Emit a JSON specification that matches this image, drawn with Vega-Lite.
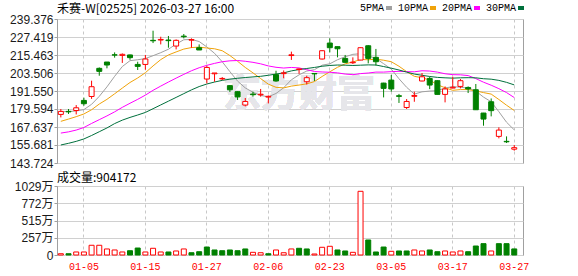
{
  "$schema": "https://vega.github.io/schema/vega-lite/v6.json",
  "background": "white",
  "padding": {"left": 5, "top": 2, "right": 0, "bottom": 0},
  "spacing": 1,
  "config": {
    "view": {"stroke": "#a0a0a0", "strokeWidth": 1},
    "axis": {"labelFont": "Liberation Sans, Noto Sans CJK SC", "labelFontSize": 12, "labelColor": "#1a1a1a", "domainColor": "#a0a0a0", "tickColor": "#a0a0a0", "gridColor": "#d0d0d0", "title": null},
    "axisY": {"labelOverlap": false},
    "title": {"font": "Noto Sans CJK SC", "fontSize": 12, "fontWeight": "normal", "anchor": "start", "frame": "group", "color": "#000000"}
  },
  "datasets": {
    "k": [
      {"i":0,"d":"12-30","o":176.0,"h":179.6,"l":174.0,"c":178.0,"v":190000,"vu":1,"5PMA":177.8,"10PMA":171.4,"20PMA":163.6,"30PMA":155.7},
      {"i":1,"d":"12-31","o":178.0,"h":179.6,"l":176.3,"c":177.7,"v":190000,"vu":0,"5PMA":177.9,"10PMA":172.9,"20PMA":164.4,"30PMA":156.8},
      {"i":2,"d":"01-02","o":178.6,"h":182.2,"l":176.0,"c":180.4,"v":450000,"vu":1,"5PMA":178.3,"10PMA":174.5,"20PMA":165.6,"30PMA":158.1},
      {"i":3,"d":"01-05","o":185.3,"h":187.1,"l":181.8,"c":183.1,"v":450000,"vu":1,"5PMA":179.2,"10PMA":176.3,"20PMA":167.3,"30PMA":159.7},
      {"i":4,"d":"01-06","o":187.9,"h":198.4,"l":186.3,"c":194.4,"v":1450000,"vu":1,"5PMA":182.7,"10PMA":179.1,"20PMA":170.0,"30PMA":162.0},
      {"i":5,"d":"01-07","o":206.6,"h":207.2,"l":201.7,"c":204.6,"v":1450000,"vu":1,"5PMA":188.0,"10PMA":182.9,"20PMA":172.5,"30PMA":164.5},
      {"i":6,"d":"01-08","o":210.8,"h":210.8,"l":206.6,"c":208.8,"v":900000,"vu":1,"5PMA":194.3,"10PMA":186.0,"20PMA":175.0,"30PMA":167.0},
      {"i":7,"d":"01-09","o":215.6,"h":217.2,"l":213.7,"c":215.4,"v":750000,"vu":1,"5PMA":201.3,"10PMA":189.7,"20PMA":177.7,"30PMA":169.9},
      {"i":8,"d":"01-12","o":215.2,"h":216.5,"l":210.2,"c":215.9,"v":450000,"vu":1,"5PMA":207.8,"10PMA":193.5,"20PMA":180.7,"30PMA":172.2},
      {"i":9,"d":"01-13","o":215.5,"h":215.7,"l":212.3,"c":213.7,"v":640000,"vu":0,"5PMA":211.7,"10PMA":197.2,"20PMA":183.4,"30PMA":174.0},
      {"i":10,"d":"01-14","o":209.2,"h":211.0,"l":205.5,"c":207.9,"v":1040000,"vu":0,"5PMA":212.3,"10PMA":200.2,"20PMA":186.0,"30PMA":175.6},
      {"i":11,"d":"01-15","o":209.2,"h":215.5,"l":205.7,"c":212.8,"v":450000,"vu":1,"5PMA":213.1,"10PMA":203.7,"20PMA":188.8,"30PMA":177.3},
      {"i":12,"d":"01-16","o":225.2,"h":231.6,"l":223.4,"c":224.9,"v":1000000,"vu":1,"5PMA":215.0,"10PMA":208.2,"20PMA":192.0,"30PMA":179.8},
      {"i":13,"d":"01-19","o":225.4,"h":227.6,"l":222.5,"c":225.8,"v":450000,"vu":1,"5PMA":217.0,"10PMA":212.4,"20PMA":194.8,"30PMA":182.3},
      {"i":14,"d":"01-20","o":225.4,"h":228.1,"l":220.3,"c":225.0,"v":450000,"vu":0,"5PMA":219.3,"10PMA":215.5,"20PMA":197.5,"30PMA":184.8},
      {"i":15,"d":"01-21","o":221.4,"h":225.8,"l":219.2,"c":225.2,"v":600000,"vu":1,"5PMA":222.7,"10PMA":217.5,"20PMA":200.1,"30PMA":187.3},
      {"i":16,"d":"01-22","o":228.0,"h":229.4,"l":226.5,"c":227.6,"v":900000,"vu":1,"5PMA":225.6,"10PMA":219.4,"20PMA":202.6,"30PMA":189.8},
      {"i":17,"d":"01-23","o":225.3,"h":226.5,"l":220.3,"c":225.7,"v":340000,"vu":0,"5PMA":225.8,"10PMA":220.4,"20PMA":205.0,"30PMA":192.3},
      {"i":18,"d":"01-26","o":220.3,"h":222.5,"l":218.8,"c":218.8,"v":490000,"vu":0,"5PMA":224.4,"10PMA":220.7,"20PMA":207.0,"30PMA":194.5},
      {"i":19,"d":"01-27","o":199.5,"h":208.3,"l":196.6,"c":207.2,"v":1190000,"vu":0,"5PMA":220.8,"10PMA":220.1,"20PMA":208.6,"30PMA":196.2},
      {"i":20,"d":"01-28","o":203.0,"h":203.5,"l":197.7,"c":203.5,"v":750000,"vu":0,"5PMA":216.6,"10PMA":219.6,"20PMA":209.9,"30PMA":197.5},
      {"i":21,"d":"01-29","o":199.6,"h":200.8,"l":198.8,"c":199.9,"v":640000,"vu":0,"5PMA":211.0,"10PMA":218.3,"20PMA":211.0,"30PMA":198.6},
      {"i":22,"d":"01-30","o":195.1,"h":195.5,"l":190.9,"c":192.4,"v":750000,"vu":0,"5PMA":204.4,"10PMA":215.1,"20PMA":211.6,"30PMA":199.4},
      {"i":23,"d":"02-02","o":191.1,"h":191.3,"l":185.6,"c":187.6,"v":640000,"vu":0,"5PMA":198.1,"10PMA":211.3,"20PMA":211.8,"30PMA":200.0},
      {"i":24,"d":"02-03","o":182.2,"h":186.9,"l":181.3,"c":184.6,"v":900000,"vu":0,"5PMA":193.6,"10PMA":207.2,"20PMA":211.3,"30PMA":200.5},
      {"i":25,"d":"02-04","o":189.5,"h":191.1,"l":187.8,"c":189.1,"v":400000,"vu":1,"5PMA":190.7,"10PMA":203.6,"20PMA":210.6,"30PMA":200.9},
      {"i":26,"d":"02-05","o":189.0,"h":192.9,"l":187.8,"c":189.4,"v":340000,"vu":1,"5PMA":188.6,"10PMA":199.8,"20PMA":209.6,"30PMA":201.3},
      {"i":27,"d":"02-06","o":187.5,"h":188.6,"l":183.3,"c":188.0,"v":190000,"vu":0,"5PMA":187.7,"10PMA":196.1,"20PMA":208.2,"30PMA":202.0},
      {"i":28,"d":"02-09","o":202.4,"h":205.0,"l":197.7,"c":198.2,"v":750000,"vu":1,"5PMA":189.9,"10PMA":194.0,"20PMA":207.3,"30PMA":202.8},
      {"i":29,"d":"02-10","o":203.1,"h":205.2,"l":200.0,"c":203.6,"v":340000,"vu":1,"5PMA":193.7,"10PMA":193.6,"20PMA":206.8,"30PMA":203.6},
      {"i":30,"d":"02-11","o":215.1,"h":217.7,"l":212.2,"c":215.6,"v":900000,"vu":1,"5PMA":199.0,"10PMA":194.8,"20PMA":207.2,"30PMA":204.9},
      {"i":31,"d":"02-12","o":205.8,"h":206.5,"l":203.0,"c":206.2,"v":1000000,"vu":0,"5PMA":202.3,"10PMA":195.5,"20PMA":206.9,"30PMA":205.8},
      {"i":32,"d":"02-13","o":197.7,"h":201.7,"l":195.9,"c":200.4,"v":900000,"vu":0,"5PMA":204.8,"10PMA":196.3,"20PMA":205.7,"30PMA":206.5},
      {"i":33,"d":"02-16","o":203.2,"h":203.2,"l":198.2,"c":202.9,"v":150000,"vu":1,"5PMA":205.7,"10PMA":197.8,"20PMA":204.5,"30PMA":207.2},
      {"i":34,"d":"02-20","o":212.8,"h":218.6,"l":212.5,"c":218.3,"v":1150000,"vu":1,"5PMA":208.7,"10PMA":201.2,"20PMA":204.2,"30PMA":208.0},
      {"i":35,"d":"02-23","o":223.4,"h":226.5,"l":217.2,"c":220.3,"v":1300000,"vu":1,"5PMA":209.6,"10PMA":204.3,"20PMA":204.0,"30PMA":208.5},
      {"i":36,"d":"02-24","o":221.0,"h":221.0,"l":213.9,"c":219.6,"v":750000,"vu":0,"5PMA":212.3,"10PMA":207.3,"20PMA":203.6,"30PMA":208.8},
      {"i":37,"d":"02-25","o":213.2,"h":215.5,"l":210.3,"c":210.6,"v":600000,"vu":0,"5PMA":214.3,"10PMA":209.6,"20PMA":202.8,"30PMA":208.7},
      {"i":38,"d":"02-26","o":210.3,"h":213.9,"l":209.5,"c":210.7,"v":400000,"vu":1,"5PMA":215.9,"10PMA":210.8,"20PMA":202.4,"30PMA":208.5},
      {"i":39,"d":"02-27","o":212.1,"h":220.5,"l":212.0,"c":220.3,"v":9500000,"vu":1,"5PMA":216.3,"10PMA":212.5,"20PMA":203.1,"30PMA":208.7},
      {"i":40,"d":"03-02","o":221.6,"h":222.0,"l":209.9,"c":213.2,"v":2240000,"vu":0,"5PMA":214.9,"10PMA":212.3,"20PMA":203.5,"30PMA":208.9},
      {"i":41,"d":"03-03","o":213.9,"h":219.5,"l":208.5,"c":211.0,"v":450000,"vu":0,"5PMA":213.2,"10PMA":212.7,"20PMA":204.1,"30PMA":208.8},
      {"i":42,"d":"03-04","o":196.8,"h":197.0,"l":187.3,"c":193.3,"v":1190000,"vu":0,"5PMA":209.7,"10PMA":212.0,"20PMA":204.1,"30PMA":207.8},
      {"i":43,"d":"03-05","o":198.8,"h":202.2,"l":191.1,"c":192.9,"v":550000,"vu":1,"5PMA":206.1,"10PMA":211.0,"20PMA":204.4,"30PMA":206.7},
      {"i":44,"d":"03-06","o":188.4,"h":189.6,"l":183.6,"c":188.0,"v":600000,"vu":0,"5PMA":199.7,"10PMA":208.0,"20PMA":204.6,"30PMA":205.5},
      {"i":45,"d":"03-09","o":180.6,"h":186.2,"l":179.6,"c":184.6,"v":600000,"vu":0,"5PMA":194.0,"10PMA":204.4,"20PMA":204.4,"30PMA":204.1},
      {"i":46,"d":"03-10","o":188.0,"h":191.1,"l":184.4,"c":188.6,"v":750000,"vu":1,"5PMA":189.5,"10PMA":201.3,"20PMA":204.3,"30PMA":202.8},
      {"i":47,"d":"03-11","o":198.2,"h":203.5,"l":198.0,"c":201.0,"v":600000,"vu":1,"5PMA":191.0,"10PMA":200.4,"20PMA":205.0,"30PMA":202.0},
      {"i":48,"d":"03-12","o":199.9,"h":201.0,"l":192.8,"c":195.5,"v":750000,"vu":0,"5PMA":191.5,"10PMA":198.8,"20PMA":204.8,"30PMA":201.2},
      {"i":49,"d":"03-13","o":198.4,"h":198.6,"l":189.3,"c":189.3,"v":490000,"vu":0,"5PMA":191.8,"10PMA":195.7,"20PMA":204.1,"30PMA":200.6},
      {"i":50,"d":"03-16","o":189.3,"h":194.6,"l":184.0,"c":192.9,"v":600000,"vu":1,"5PMA":193.5,"10PMA":193.7,"20PMA":203.0,"30PMA":200.3},
      {"i":51,"d":"03-17","o":193.5,"h":201.0,"l":193.5,"c":194.0,"v":450000,"vu":1,"5PMA":194.5,"10PMA":192.0,"20PMA":202.4,"30PMA":200.1},
      {"i":52,"d":"03-18","o":194.6,"h":199.5,"l":193.3,"c":198.4,"v":600000,"vu":1,"5PMA":194.0,"10PMA":192.5,"20PMA":202.3,"30PMA":200.3},
      {"i":53,"d":"03-19","o":193.9,"h":194.6,"l":190.2,"c":192.9,"v":490000,"vu":0,"5PMA":193.5,"10PMA":192.5,"20PMA":201.8,"30PMA":200.4},
      {"i":54,"d":"03-20","o":192.4,"h":196.2,"l":179.1,"c":179.1,"v":1340000,"vu":0,"5PMA":191.5,"10PMA":191.6,"20PMA":199.8,"30PMA":200.3},
      {"i":55,"d":"03-23","o":176.9,"h":177.0,"l":168.5,"c":172.9,"v":1690000,"vu":0,"5PMA":187.5,"10PMA":190.5,"20PMA":197.4,"30PMA":199.7},
      {"i":56,"d":"03-24","o":184.4,"h":186.6,"l":174.7,"c":178.5,"v":600000,"vu":1,"5PMA":184.4,"10PMA":189.5,"20PMA":195.4,"30PMA":199.4},
      {"i":57,"d":"03-25","o":161.4,"h":167.4,"l":160.1,"c":165.6,"v":1690000,"vu":0,"5PMA":177.8,"10PMA":185.9,"20PMA":193.1,"30PMA":198.6},
      {"i":58,"d":"03-26","o":158.1,"h":161.4,"l":157.0,"c":157.8,"v":1690000,"vu":0,"5PMA":170.8,"10PMA":182.1,"20PMA":190.5,"30PMA":197.3},
      {"i":59,"d":"03-27","o":152.9,"h":155.7,"l":151.9,"c":153.9,"v":904172,"vu":0,"5PMA":165.7,"10PMA":178.6,"20PMA":187.2,"30PMA":195.6}
    ]
  },
  "vconcat": [
    {
      "title": {"text": "禾赛-W[02525] 2026-03-27 16:00", "offset": -3},
      "width": 466,
      "height": 144,
      "data": {"name": "k"},
      "encoding": {
        "x": {
          "field": "d", "type": "ordinal",
          "scale": {"type": "band", "paddingInner": 0, "paddingOuter": 0.32, "align": 0,
            "domain": ["12-30","12-31","01-02","01-05","01-06","01-07","01-08","01-09","01-12","01-13","01-14","01-15","01-16","01-19","01-20","01-21","01-22","01-23","01-26","01-27","01-28","01-29","01-30","02-02","02-03","02-04","02-05","02-06","02-09","02-10","02-11","02-12","02-13","02-16","02-20","02-23","02-24","02-25","02-26","02-27","03-02","03-03","03-04","03-05","03-06","03-09","03-10","03-11","03-12","03-13","03-16","03-17","03-18","03-19","03-20","03-23","03-24","03-25","03-26","03-27"]},
          "axis": {"values": ["01-05","01-15","01-27","02-06","02-23","03-05","03-17","03-27"], "labels": false, "ticks": false, "domain": false, "grid": true, "gridDash": [3, 3], "gridColor": "#c8c8c8", "minExtent": 0, "maxExtent": 0}
        }
      },
      "layer": [
        {
          "mark": {"type": "text", "font": "Noto Sans CJK SC", "fontSize": 38, "fontWeight": "bold", "color": "#e6e6ea", "align": "center", "baseline": "middle"},
          "encoding": {"x": {"datum": "02-12"},
            "y": {"datum": 189, "type": "quantitative", "scale": {"domain": [143.724, 239.376], "nice": false, "zero": false},
              "axis": {"values": [143.724, 155.681, 167.637, 179.594, 191.55, 203.506, 215.463, 227.419, 239.376], "format": ".3f", "tickSize": 3, "labelPadding": 1, "grid": true, "labelOverlap": false, "labelBound": false, "minExtent": 51, "maxExtent": 51}},
            "text": {"value": "东方财富"}}
        },
        {
          "transform": [{"fold": ["5PMA", "10PMA", "20PMA", "30PMA"], "as": ["ma", "val"]}],
          "mark": {"type": "line", "strokeWidth": 1},
          "encoding": {
            "y": {"field": "val", "type": "quantitative",
              "axis": {"values": [143.724, 155.681, 167.637, 179.594, 191.55, 203.506, 215.463, 227.419, 239.376], "format": ".3f", "tickSize": 3, "labelPadding": 1, "grid": true, "labelOverlap": false, "labelBound": false, "minExtent": 51, "maxExtent": 51}},
            "color": {"field": "ma", "type": "nominal",
              "scale": {"domain": ["5PMA", "10PMA", "20PMA", "30PMA"], "range": ["#a0a0a0", "#f0a30a", "#ff00ff", "#00703c"]},
              "legend": {"orient": "none", "legendX": 327, "legendY": -16, "direction": "horizontal", "columns": 4, "gridAlign": "none", "title": null, "padding": 0,
                "symbolType": "stroke", "symbolSize": 36, "symbolStrokeWidth": 4, "labelFont": "Liberation Mono", "labelFontSize": 10, "labelColor": "#000000",
                "labelAlign": "right", "labelOffset": -10, "columnPadding": -3,
                "labelExpr": "datum.label == '5PMA' ? ' 5PMA' : datum.label"}},
            "order": {"value": null}
          }
        },
        {
          "mark": {"type": "rule", "strokeWidth": 1},
          "encoding": {
            "y": {"field": "l", "type": "quantitative",
              "axis": {"values": [143.724, 155.681, 167.637, 179.594, 191.55, 203.506, 215.463, 227.419, 239.376], "format": ".3f", "tickSize": 3, "labelPadding": 1, "grid": true, "labelOverlap": false, "labelBound": false, "minExtent": 51, "maxExtent": 51}},
            "y2": {"field": "h"},
            "color": {"condition": {"test": "datum.c > datum.o", "value": "#ff0000"}, "value": "#008000"}
          }
        },
        {
          "mark": {"type": "bar", "width": 5, "strokeWidth": 1},
          "encoding": {
            "y": {"field": "o", "type": "quantitative",
              "axis": {"values": [143.724, 155.681, 167.637, 179.594, 191.55, 203.506, 215.463, 227.419, 239.376], "format": ".3f", "tickSize": 3, "labelPadding": 1, "grid": true, "labelOverlap": false, "labelBound": false, "minExtent": 51, "maxExtent": 51}},
            "y2": {"field": "c"},
            "fill": {"condition": {"test": "datum.c > datum.o", "value": "#ffffff"}, "value": "#008000"},
            "stroke": {"condition": {"test": "datum.c > datum.o", "value": "#ff0000"}, "value": "#008000"}
          }
        }
      ]
    },
    {
      "title": {"text": "成交量:904172", "offset": -5},
      "width": 466,
      "height": 69,
      "data": {"name": "k"},
      "mark": {"type": "bar", "width": 5, "strokeWidth": 1},
      "encoding": {
        "x": {
          "field": "d", "type": "ordinal",
          "scale": {"type": "band", "paddingInner": 0, "paddingOuter": 0.32, "align": 0,
            "domain": ["12-30","12-31","01-02","01-05","01-06","01-07","01-08","01-09","01-12","01-13","01-14","01-15","01-16","01-19","01-20","01-21","01-22","01-23","01-26","01-27","01-28","01-29","01-30","02-02","02-03","02-04","02-05","02-06","02-09","02-10","02-11","02-12","02-13","02-16","02-20","02-23","02-24","02-25","02-26","02-27","03-02","03-03","03-04","03-05","03-06","03-09","03-10","03-11","03-12","03-13","03-16","03-17","03-18","03-19","03-20","03-23","03-24","03-25","03-26","03-27"]},
          "axis": {"values": ["01-05","01-15","01-27","02-06","02-23","03-05","03-17","03-27"], "labelAngle": 0, "labelColor": "#ff0000", "labelFont": "Liberation Mono", "labelFontSize": 10, "labelPadding": 6, "ticks": false, "domain": false, "grid": true, "gridDash": [3, 3], "gridColor": "#c8c8c8"}
        },
        "y": {"field": "v", "type": "quantitative", "scale": {"domain": [0, 10290000], "nice": false},
          "axis": {"values": [0, 2572500, 5145000, 7717500, 10290000], "labelExpr": "datum.value == 0 ? '0' : format(datum.value / 10000, 'd') + '万'", "tickSize": 3, "labelPadding": 1, "grid": true, "labelOverlap": false, "minExtent": 51, "maxExtent": 51}},
        "fill": {"condition": {"test": "datum.vu == 1", "value": "#ffffff"}, "value": "#008000"},
        "stroke": {"condition": {"test": "datum.vu == 1", "value": "#ff0000"}, "value": "#008000"}
      }
    }
  ]
}
